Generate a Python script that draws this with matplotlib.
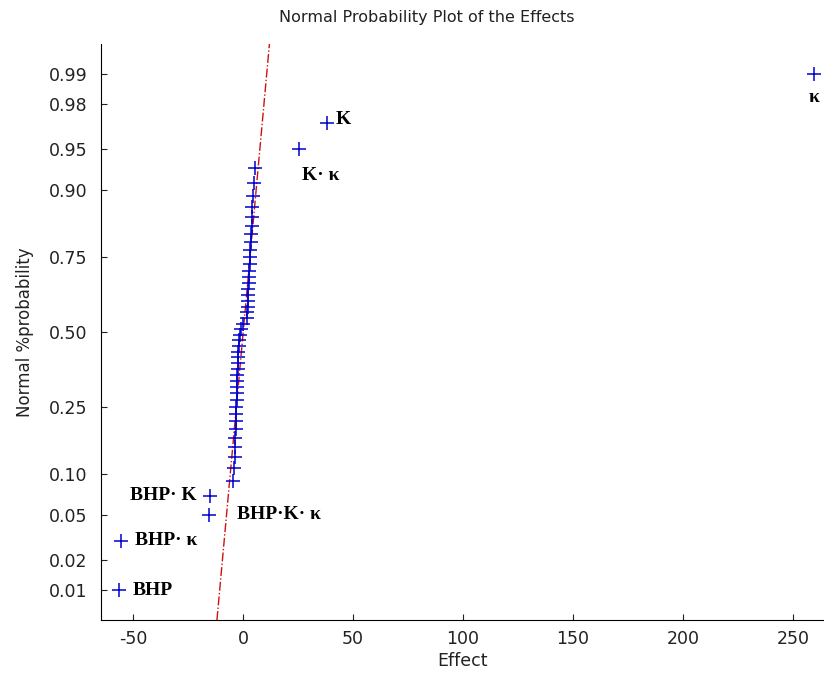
from statistics import NormalDist
import numpy as np
import matplotlib
matplotlib.use("Agg")
import matplotlib.pyplot as plt

plt.rcParams["axes.unicode_minus"] = False

# effects sorted ascending, labels only for the significant ones
effects = [
    -56.4, -55.5, -15.6, -15.2,
    -4.5, -4.2, -3.6, -3.5, -3.4, -3.3, -3.2, -3.1, -3.0, -2.9,
    -2.8, -2.7, -2.6, -2.5, -2.4, -2.3, -2.2, -2.1, -2.0, -1.8,
    -1.4, -0.9, 0.0, 1.8, 2.0, 2.1, 2.2, 2.3, 2.4, 2.6,
    2.8, 2.9, 3.0, 3.2, 3.4, 3.6, 3.8, 4.0, 4.0, 4.2,
    4.6, 4.8, 5.5,
    25.5, 38.2, 259.5,
]
effect_names = ["BHP", "BHP\u00b7 \u03ba", "BHP\u00b7K\u00b7 \u03ba", "BHP\u00b7 K"] + [""] * 43 + ["K\u00b7 \u03ba", "K", "\u03ba"]
# label offsets in pixels (dx, dy) and alignment
label_offsets = {
    "BHP": (14, 0, "left"),
    "BHP\u00b7 \u03ba": (14, 0, "left"),
    "BHP\u00b7K\u00b7 \u03ba": (28, 0, "left"),
    "BHP\u00b7 K": (-13, 0, "right"),
    "K\u00b7 \u03ba": (3, -26, "left"),
    "K": (9, 4, "left"),
    "\u03ba": (0, -24, "center"),
}
prob_ticks = [0.01, 0.02, 0.05, 0.10, 0.25, 0.50, 0.75, 0.90, 0.95, 0.98, 0.99]
effect_ticks = [-50, 0, 50, 100, 150, 200, 250]

nd = NormalDist()
_inv = np.vectorize(nd.inv_cdf, otypes=[float])
_cdf = np.vectorize(nd.cdf, otypes=[float])


def probit(p):
    p = np.clip(np.asarray(p, dtype=float), 1e-9, 1 - 1e-9)
    return _inv(p)


def norm_cdf(z):
    return _cdf(np.asarray(z, dtype=float))


x = np.array(effects)
n = len(x)
probs = (np.arange(1, n + 1) - 0.5) / n

fig = plt.figure(figsize=(8.24, 6.77), dpi=100)
ax = fig.add_axes([0.1226, 0.0842, 0.8774, 0.851])
ax.set_yscale("function", functions=(probit, norm_cdf))

# reference line through the quartiles
q1, q3 = np.percentile(x, [25, 75], method="hazen")
z1, z3 = nd.inv_cdf(0.25), nd.inv_cdf(0.75)
z_lim = 2.595
slope = (q3 - q1) / (z3 - z1)
line_x = [q1 + (-z_lim - z1) * slope, q1 + (z_lim - z1) * slope]
line_p = [nd.cdf(-z_lim), nd.cdf(z_lim)]
ax.plot(line_x, line_p, color="#d01010", linestyle="-.", linewidth=1.0)

ax.plot(x, probs, "+", color="#0000cc", markersize=9.5, markeredgewidth=1.1)

for xv, pv, name in zip(x, probs, effect_names):
    if name == "":
        continue
    dx, dy, ha = label_offsets[name]
    ax.annotate(name, (xv, pv), xytext=(dx, dy), textcoords="offset pixels",
                ha=ha, va="center", fontsize=14, fontweight="bold",
                family="Liberation Serif")

ax.set_xlim(-64.5, 264)
ax.set_ylim(nd.cdf(-z_lim), nd.cdf(z_lim))

ax.set_yticks(prob_ticks)
ax.set_yticklabels(["%.2f" % p for p in prob_ticks])
ax.set_xticks(effect_ticks)
ax.minorticks_off()

for side in ["top", "right"]:
    ax.spines[side].set_visible(False)
ax.tick_params(direction="in", length=4, labelsize=12.5, width=0.8, colors="#222222")
ax.tick_params(axis="y", pad=10)
ax.tick_params(axis="x", pad=7)
for lab in ax.get_xticklabels() + ax.get_yticklabels():
    lab.set_family("DejaVu Sans")

ax.set_xlabel("Effect", fontsize=12.5, family="DejaVu Sans", labelpad=3, color="#222222")
ax.set_ylabel("Normal %probability", fontsize=12, family="DejaVu Sans", labelpad=10, color="#222222")
ax.set_title("Normal Probability Plot of the Effects", fontsize=11.5,
             family="DejaVu Sans", x=0.45, pad=16, color="#222222")

fig.savefig("out.png", dpi=100)
